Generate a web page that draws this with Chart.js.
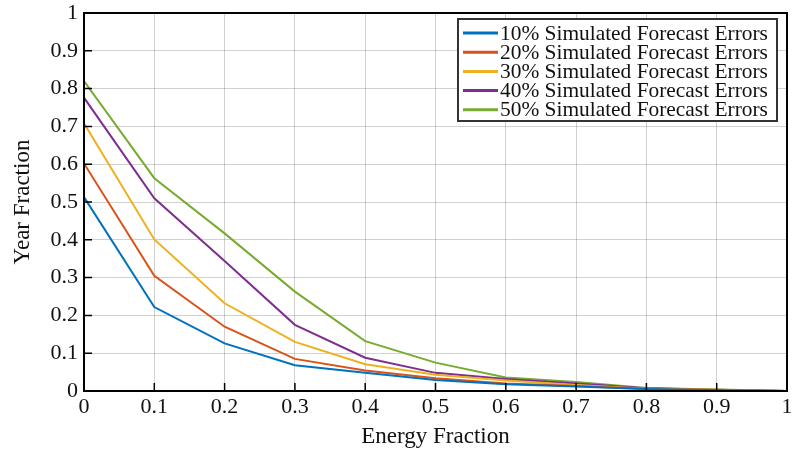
<!DOCTYPE html>
<html>
<head>
<meta charset="utf-8">
<script src="https://cdn.jsdelivr.net/npm/chart.js@4.4.1/dist/chart.umd.min.js"></script>
<style>
  html, body { margin: 0; padding: 0; background: #fff; }
</style>
</head>
<body>
<canvas id="grafica" width="800" height="455"></canvas>
<script>
// Fracciones de energia (eje x)
const energia = [0, 0.1, 0.2, 0.3, 0.4, 0.5, 0.6, 0.7, 0.8, 0.9, 1];

// Fraccion del año para cada nivel de error simulado
const err10 = [0.513, 0.222, 0.126, 0.068, 0.048, 0.029, 0.018, 0.012, 0.005, 0.002, 0];
const err20 = [0.602, 0.305, 0.170, 0.085, 0.054, 0.034, 0.020, 0.013, 0.005, 0.002, 0];
const err30 = [0.708, 0.401, 0.232, 0.130, 0.071, 0.043, 0.028, 0.016, 0.006, 0.003, 0];
const err40 = [0.776, 0.510, 0.344, 0.175, 0.088, 0.048, 0.032, 0.020, 0.007, 0.003, 0];
const err50 = [0.820, 0.563, 0.417, 0.263, 0.132, 0.075, 0.036, 0.024, 0.008, 0.004, 0];

const etiquetas = [
  '10% Simulated Forecast Errors',
  '20% Simulated Forecast Errors',
  '30% Simulated Forecast Errors',
  '40% Simulated Forecast Errors',
  '50% Simulated Forecast Errors'
];
const colores = ['#0072BD', '#D95319', '#EDB120', '#7E2F8E', '#77AC30'];
const series = [err10, err20, err30, err40, err50];

const fuente = "'Liberation Serif', 'DejaVu Serif', serif";

const puntos = (ys) => energia.map((x, i) => ({ x: x, y: ys[i] }));
// 0 y 1 sin decimales
const formato = (v) => String(Number(v.toFixed(1)));

// Marco negro y marcas hacia dentro (estilo matlab)
const marco = {
  id: 'marco',
  afterDatasetsDraw(chart) {
    const { ctx, chartArea: a, scales } = chart;
    ctx.save();
    ctx.strokeStyle = '#000';
    ctx.lineWidth = 1.5;
    ctx.beginPath();
    energia.forEach(v => {
      const px = scales.x.getPixelForValue(v);
      ctx.moveTo(px, a.bottom);
      ctx.lineTo(px, a.bottom - 8);
    });
    scales.y.ticks.forEach(t => {
      const py = scales.y.getPixelForValue(t.value);
      ctx.moveTo(a.left, py);
      ctx.lineTo(a.left + 8, py);
    });
    ctx.stroke();
    ctx.lineWidth = 2;
    ctx.strokeRect(a.left, a.top, a.right - a.left, a.bottom - a.top);
    ctx.restore();
  }
};

// Leyenda dentro del area de la grafica
const leyenda = {
  id: 'leyenda',
  afterDraw(chart) {
    const { ctx, chartArea: a } = chart;
    const x0 = a.right - 329, y0 = a.top + 6, w = 319, h = 102;
    ctx.save();
    ctx.fillStyle = '#fff';
    ctx.fillRect(x0, y0, w, h);
    ctx.strokeStyle = '#333';
    ctx.lineWidth = 2;
    ctx.strokeRect(x0, y0, w, h);
    ctx.font = '21.4px ' + fuente;
    ctx.textBaseline = 'middle';
    ctx.fillStyle = '#111';
    chart.data.datasets.forEach((ds, i) => {
      const y = y0 + 14 + i * 19.2;
      ctx.strokeStyle = ds.borderColor;
      ctx.lineWidth = 3;
      ctx.beginPath();
      ctx.moveTo(x0 + 5, y);
      ctx.lineTo(x0 + 40, y);
      ctx.stroke();
      ctx.fillText(ds.label, x0 + 42, y + 1);
    });
    ctx.restore();
  }
};

new Chart(document.getElementById('grafica'), {
  type: 'line',
  data: {
    datasets: series.map((s, i) => ({
      label: etiquetas[i],
      data: puntos(s),
      borderColor: colores[i],
      backgroundColor: colores[i],
      borderWidth: 2,
      pointRadius: 0,
      tension: 0
    }))
  },
  options: {
    responsive: false,
    animation: false,
    devicePixelRatio: 1,
    layout: { padding: { top: 13, right: 13, left: 0, bottom: 0 } },
    plugins: {
      legend: { display: false },
      tooltip: { enabled: false }
    },
    scales: {
      x: {
        type: 'linear',
        min: 0,
        max: 1,
        ticks: {
          stepSize: 0.1,
          color: '#111',
          font: { family: fuente, size: 22 },
          padding: 3,
          maxRotation: 0,
          callback: formato
        },
        grid: { color: 'rgba(0,0,0,0.18)', lineWidth: 1, drawTicks: false },
        border: { display: false },
        title: {
          display: true,
          text: 'Energy Fraction',
          color: '#111',
          font: { family: fuente, size: 23 },
          padding: { top: 0 }
        },
        afterFit(scale) {
          scale.height = 64;
          scale.paddingLeft = 0;
          scale.paddingRight = 0;
        }
      },
      y: {
        min: 0,
        max: 1,
        ticks: {
          stepSize: 0.1,
          color: '#111',
          font: { family: fuente, size: 22 },
          padding: 6,
          callback: formato
        },
        grid: { color: 'rgba(0,0,0,0.18)', lineWidth: 1, drawTicks: false },
        border: { display: false },
        title: {
          display: true,
          text: 'Year Fraction',
          color: '#111',
          font: { family: fuente, size: 23 },
          padding: { top: 9, bottom: 0 }
        },
        afterFit(scale) {
          scale.width = 84;
          scale.paddingTop = 0;
          scale.paddingBottom = 0;
        }
      }
    }
  },
  plugins: [marco, leyenda]
});
</script>
</body>
</html>
